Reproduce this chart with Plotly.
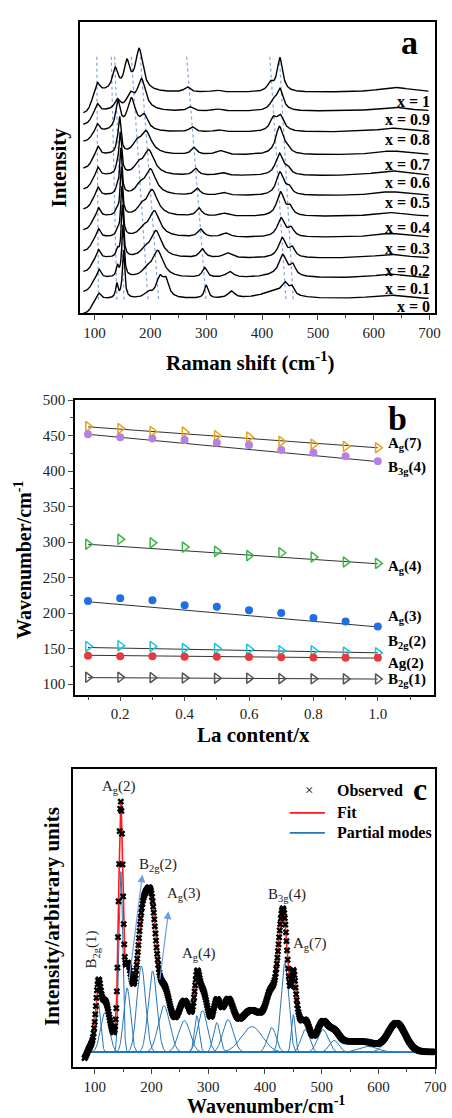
import numpy as np
import plotly.graph_objects as go

W, H = 452, 1118
SERIF = "Liberation Serif"

# ---------------- Panel a : stacked Raman spectra ----------------
comp_labels = ["x = 0", "x = 0.1", "x = 0.2", "x = 0.3", "x = 0.4", "x = 0.5",
               "x = 0.6", "x = 0.7", "x = 0.8", "x = 0.9", "x = 1"]
offset_a = [14, 35, 55, 76, 97, 118, 138, 159, 182, 203, 222]
edge_a = [15, 14, 14, 14, 14, 14, 14, 14, 10, 14, 22]
label_y_px = [301, 283, 265, 243, 222, 197, 177, 158, 133, 113, 95]

# mode tables (centre cm-1, height, half width) for x = 0 ... 1
b1_c = [108, 108, 107, 107, 107, 106, 106, 106, 105, 105, 105]
b1_h = [6, 9, 9, 9, 9, 9, 9, 9, 8, 8, 10]
b1_w = [4, 4, 4, 4, 4, 4, 4, 4, 4, 4, 5]
sh_c = [140, 141, 141, 141, 140, 140, 140, 140, 140, 140, 140]
sh_h = [14, 10, 7, 6, 5, 5, 4, 4, 0, 0, 0]
sh_w = [2.5, 2.5, 2.5, 2.5, 2.5, 2.5, 2.5, 2.5, 2.5, 2.5, 2.5]
sp_c = [152, 151, 150, 149, 148, 147, 146, 145, 142, 141, 137]
sp_h = [48, 52, 52, 50, 48, 46, 42, 36, 28, 10, 22]
sp_w = [2.5, 2.5, 2.5, 2.5, 2.5, 2.5, 3, 3, 5, 6, 6]
b2_c = [196, 193, 190, 187, 184, 181, 178, 175, 166, 164, 158]
b2_h = [5, 6, 6, 6, 7, 7, 8, 8, 32, 14, 27]
b2_w = [8, 8, 8, 8, 8, 8, 8, 8, 9, 8, 6]
a3_c = [217, 213, 210, 207, 203, 200, 197, 192, 189, 184, 180]
a3_h = [20, 27, 27, 26, 26, 26, 25, 23, 14, 31, 42]
a3_w = [8, 12, 12, 12, 12, 12, 12, 12, 8, 9, 8]
a3b_c = [228, 228, 228, 228, 228, 228, 228, 228, 228, 228, 228]
a3b_h = [15, 0, 0, 0, 0, 0, 0, 0, 0, 0, 0]
a3b_w = [6, 6, 6, 6, 6, 6, 6, 6, 6, 6, 6]
a4_c = [300, 297, 293, 290, 287, 284, 281, 278, 275, 271, 266]
a4_h = [13, 10, 9, 8, 8, 7, 7, 7, 5, 4, 5]
a4_w = [4, 5, 6, 6, 6, 6, 6, 6, 6, 6, 6]
m5_c = [345, 342, 338, 335, 332, 330, 328, 325, 322, 320, 318]
m5_h = [7, 6, 5, 4, 3, 3, 3, 4, 2, 2, 2]
m5_w = [7, 8, 9, 9, 9, 9, 9, 9, 9, 9, 9]
mn_c = [441, 437, 436, 434, 433, 432, 431, 431, 433, 432, 432]
mn_h = [10, 20, 20, 19, 24, 23, 22, 28, 15, 21, 34]
mn_w = [6, 8, 8, 8, 8, 8, 8, 8, 8, 7, 6]
so_c = [453, 455, 454, 452, 450, 448, 446, 445, 420, 420, 415]
so_h = [8, 10, 9, 8, 8, 7, 6, 5, 12, 8, 8]
so_w = [5, 6, 6, 6, 6, 6, 6, 6, 7, 7, 6]
br_c = [425, 430, 430, 430, 430, 430, 430, 430, 430, 430, 430]
br_h = [8, 3, 0, 0, 0, 0, 0, 0, 0, 0, 0]
br_w = [30, 30, 30, 30, 30, 30, 30, 30, 30, 30, 30]
hu_c = [625, 630, 630, 630, 630, 630, 630, 632, 635, 635, 638]
hu_h = [4, 4, 4, 4, 4, 4, 5, 4, 4, 4, 5]
hu_w = [35, 35, 35, 35, 35, 35, 35, 35, 35, 35, 35]

guide_top = [104, 130, 136, 166, 182, 265, 414, 431]
guide_bot = [107, 140, 153, 196, 215, 300, 443, 456]
guide_y = [258, 12]

# ---------------- Panel b : mode positions vs La content ----------------
la_x = [0.1, 0.2, 0.3, 0.4, 0.5, 0.6, 0.7, 0.8, 0.9, 1.0]
ag7 = [463, 460, 456, 455, 450, 448, 442, 438, 435, 433]
b3g4 = [452, 448, 446, 444, 440, 437, 430, 426, 421, 414]
ag4 = [297, 304, 299, 293, 287, 281, 285, 279, 272, 270]
ag3 = [217, 221, 218, 211, 209, 204, 200, 193, 188, 181]
b2g2 = [153, 154, 153, 150, 150, 149, 147, 147, 145, 144]
ag2 = [140, 139, 139, 138.6, 138.6, 138, 137.8, 137.3, 137, 137]
b2g1 = [109.5, 109.5, 109, 108.4, 108.2, 108.2, 107.6, 107.4, 107.2, 107]
fit_x = [0.1, 1.0]
fit_ag7 = [462.5, 433]
fit_b3g4 = [452, 413.5]
fit_ag4 = [297, 269.5]
fit_ag3 = [216, 180.5]
fit_b2g2 = [151.5, 144]
fit_ag2 = [140.5, 136.5]
fit_b2g1 = [109, 107]
b_labels = ["A<sub>g</sub>(7)", "B<sub>3g</sub>(4)", "A<sub>g</sub>(4)", "A<sub>g</sub>(3)",
            "B<sub>2g</sub>(2)", "Ag(2)", "B<sub>2g</sub>(1)"]
b_label_y = [438, 404.6, 265.6, 194, 159, 129.5, 105.6]

# ---------------- Panel c : fitted spectrum ----------------
pm_c = [106, 118, 146, 157, 182, 202, 222, 258, 280, 290, 315, 335, 377, 412, 435, 450, 471, 502, 522, 582, 632]
pm_h = [50, 40, 182, 65, 87, 82, 47, 32, 37, 42, 30, 33, 26, 25, 90, 38, 23, 23, 12, 6, 28]
pm_w = [5, 9, 4, 7, 9, 9, 12, 12, 5, 10, 7, 11, 22, 9, 8, 4, 9, 11, 10, 20, 18]
bg_c = [80, 144, 167, 193, 408, 427, 454, 545, 280]
bg_h = [-15, 50, 25, 75, 18, 64, 32, 6, 20]
bg_w = [8, 5, 8, 10, 12, 8, 7, 25, 180]
c_labels = ["A<sub>g</sub>(2)", "B<sub>2g</sub>(2)", "A<sub>g</sub>(3)", "A<sub>g</sub>(4)",
            "B<sub>3g</sub>(4)", "A<sub>g</sub>(7)"]
c_label_x = [143, 212, 257.5, 283.6, 439, 479]
c_label_y = [267, 189, 159, 99, 158, 109]


def lor(x, c, h, w):
    return h / (1.0 + ((x - c) / w) ** 2)


def gau(x, c, h, w):
    return h * np.exp(-np.log(2) * ((x - c) / w) ** 2)


def P(px, py):
    return px / W, 1 - py / H


fig = go.Figure()

# ---- panel a traces
for tc, bc in zip(guide_top, guide_bot):
    fig.add_trace(go.Scatter(x=[tc, bc], y=guide_y, mode="lines", xaxis="x", yaxis="y",
                             line=dict(color="#7FA3E3", width=1.2, dash="dot"),
                             hoverinfo="skip", showlegend=False))

xa = np.arange(80, 698.01, 0.5)
tables = [(b1_c, b1_h, b1_w), (sh_c, sh_h, sh_w), (sp_c, sp_h, sp_w), (b2_c, b2_h, b2_w),
          (a3_c, a3_h, a3_w), (a3b_c, a3b_h, a3b_w), (a4_c, a4_h, a4_w), (m5_c, m5_h, m5_w),
          (mn_c, mn_h, mn_w), (so_c, so_h, so_w), (br_c, br_h, br_w), (hu_c, hu_h, hu_w)]
for i in range(len(comp_labels)):
    y = np.full_like(xa, float(offset_a[i]))
    for cc, hh, ww in tables:
        y = y + lor(xa, cc[i], hh[i], ww[i])
    y = y - edge_a[i] / (1.0 + np.exp((xa - 95.0) / 4.0))
    fig.add_trace(go.Scatter(x=xa, y=y, mode="lines", xaxis="x", yaxis="y",
                             line=dict(color="black", width=1.4), showlegend=False))

# ---- panel b traces
series_b = [(ag7, fit_ag7, "#E8A317", "triangle-right-open"),
            (b3g4, fit_b3g4, "#B780E4", "circle"),
            (ag4, fit_ag4, "#3DB54A", "triangle-right-open"),
            (ag3, fit_ag3, "#1F6FE5", "circle"),
            (b2g2, fit_b2g2, "#19C6D6", "triangle-right-open"),
            (ag2, fit_ag2, "#E8393B", "circle"),
            (b2g1, fit_b2g1, "#555555", "triangle-right-open")]
for vals, fit, col, sym in series_b:
    fig.add_trace(go.Scatter(x=fit_x, y=fit, mode="lines", xaxis="x2", yaxis="y2",
                             line=dict(color="#333333", width=1), showlegend=False))
for vals, fit, col, sym in series_b:
    if sym == "circle":
        mk = dict(symbol=sym, size=8, color=col, line=dict(width=0))
    else:
        mk = dict(symbol=sym, size=9, color=col, line=dict(width=1.5, color=col))
    fig.add_trace(go.Scatter(x=la_x, y=vals, mode="markers", xaxis="x2", yaxis="y2",
                             marker=mk, showlegend=False))

# ---- panel c traces
xc = np.arange(82, 700.01, 0.5)
for cc, hh, ww in zip(pm_c, pm_h, pm_w):
    fig.add_trace(go.Scatter(x=xc, y=gau(xc, cc, hh, ww), mode="lines", xaxis="x3", yaxis="y3",
                             line=dict(color="#2676BA", width=1), showlegend=False))
fit_y = np.zeros_like(xc)
for cc, hh, ww in zip(pm_c + bg_c, pm_h + bg_h, pm_w + bg_w):
    fit_y = fit_y + gau(xc, cc, hh, ww)
fig.add_trace(go.Scatter(x=xc, y=fit_y, mode="lines", xaxis="x3", yaxis="y3",
                         line=dict(color="#FF1A1A", width=1.6), showlegend=False))
xo = np.arange(82, 700.01, 1.0)
obs_y = np.zeros_like(xo)
for cc, hh, ww in zip(pm_c + bg_c, pm_h + bg_h, pm_w + bg_w):
    obs_y = obs_y + gau(xo, cc, hh, ww)
fig.add_trace(go.Scatter(x=xo, y=obs_y, mode="markers", xaxis="x3", yaxis="y3",
                         marker=dict(symbol="x", size=6, color="black", line=dict(width=0)),
                         showlegend=False))

# ---------------- layout ----------------
tickfont = dict(family=SERIF, size=15, color="#222222")
axcommon = dict(showline=True, mirror=True, linecolor="black", linewidth=1.6,
                showgrid=False, zeroline=False, tickfont=tickfont)

fig.update_layout(
    width=W, height=H, margin=dict(l=0, r=0, t=0, b=0),
    paper_bgcolor="white", plot_bgcolor="white", showlegend=False,
    xaxis=dict(domain=[82 / W, 446 / W], anchor="y", range=[74, 710],
               tickvals=[100, 200, 300, 400, 500, 600, 700], ticks="outside", ticklen=5,
               tickwidth=1.3, minor=dict(dtick=50, tick0=0, ticks="outside", ticklen=3),
               **axcommon),
    yaxis=dict(domain=[1 - 308 / H, 1 - 15 / H], anchor="x", range=[0, 293],
               showticklabels=False, ticks="", **axcommon),
    xaxis2=dict(domain=[77 / W, 445 / W], anchor="y2", range=[0.06, 1.175],
                tickvals=[0.2, 0.4, 0.6, 0.8, 1.0], ticktext=["0.2", "0.4", "0.6", "0.8", "1.0"],
                ticks="outside", ticklen=5, tickwidth=1.3,
                minor=dict(dtick=0.1, tick0=0, ticks="outside", ticklen=4), **axcommon),
    yaxis2=dict(domain=[1 - 692 / H, 1 - 395 / H], anchor="x2", range=[85, 501],
                tickvals=[100, 150, 200, 250, 300, 350, 400, 450, 500], ticks="outside",
                ticklen=5, tickwidth=1.3,
                minor=dict(dtick=25, tick0=0, ticks="outside", ticklen=3), **axcommon),
    xaxis3=dict(domain=[75 / W, 446 / W], anchor="y3", range=[62, 700],
                tickvals=[100, 200, 300, 400, 500, 600, 700], ticks="outside", ticklen=5,
                tickwidth=1.3, minor=dict(dtick=50, tick0=0, ticks="outside", ticklen=3),
                **axcommon),
    yaxis3=dict(domain=[1 - 1067 / H, 1 - 767 / H], anchor="x3", range=[-15, 285],
                showticklabels=False, ticks="", **axcommon),
)

ann = []
bold = lambda s: dict(family=SERIF, size=s, color="black")


def txt(px, py, text, size, angle=0, xanchor="center", weight="bold"):
    x, y = P(px, py)
    t = "<b>" + text + "</b>" if weight == "bold" else text
    ann.append(dict(x=x, y=y, xref="paper", yref="paper", text=t, showarrow=False,
                    font=bold(size), textangle=angle, xanchor=xanchor, yanchor="middle"))


# axis titles
txt(60, 162, "Intensity", 21, angle=-90)
txt(257, 357, "Raman shift (cm<sup>-1</sup>)", 21)
txt(23, 556, "Wavenumber/cm<sup>-1</sup>", 20, angle=-90)
txt(260, 733, "La content/x", 21)
txt(54, 915, "Intensity/arbitrary units", 21, angle=-90)
txt(273, 1105, "Wavenumber/cm<sup>-1</sup>", 20)
# panel letters
txt(420, 36, "a", 34)
txt(407, 414, "b", 34)
txt(430, 787, "c", 32)

# panel a composition labels
for lab, py in zip(comp_labels, label_y_px):
    txt(443, py, lab, 16, xanchor="right")

# panel b mode labels
for lab, yv in zip(b_labels, b_label_y):
    ann.append(dict(x=396 / W, y=yv, xref="paper", yref="y2", text="<b>" + lab + "</b>",
                    showarrow=False, font=bold(15), xanchor="left", yanchor="middle"))

# panel c mode labels
for lab, xv, yv in zip(c_labels, c_label_x, c_label_y):
    ann.append(dict(x=xv, y=yv, xref="x3", yref="y3", text=lab, showarrow=False,
                    font=dict(family=SERIF, size=15, color="#222222"),
                    xanchor="center", yanchor="middle"))
ann.append(dict(x=96, y=104, xref="x3", yref="y3", text="B<sub>2g</sub>(1)", showarrow=False,
                font=dict(family=SERIF, size=15, color="#222222"), textangle=-90,
                xanchor="center", yanchor="middle"))
# arrows in panel c
for (hx, hy, tx, ty) in [(184, 179, 160, 70), (230, 142, 214.5, 72)]:
    ann.append(dict(x=hx, y=hy, ax=tx, ay=ty, xref="x3", yref="y3", axref="x3", ayref="y3",
                    text="", showarrow=True, arrowhead=2, arrowsize=1.3, arrowwidth=1.2,
                    arrowcolor="#6F9DE6"))

# legend of panel c
txt(317, 788, "×", 15, weight="normal")
txt(343, 788, "Observed", 16, xanchor="left")
txt(343, 811, "Fit", 16, xanchor="left")
txt(343, 831, "Partial modes", 16, xanchor="left")
shapes = []
for py, col in [(811, "#FF1A1A"), (831, "#2676BA")]:
    x0, y0 = P(297, py)
    x1, _ = P(333, py)
    shapes.append(dict(type="line", xref="paper", yref="paper", x0=x0, x1=x1, y0=y0, y1=y0,
                       line=dict(color=col, width=1.8)))

fig.update_layout(annotations=ann, shapes=shapes)
fig.write_html("out.html")
